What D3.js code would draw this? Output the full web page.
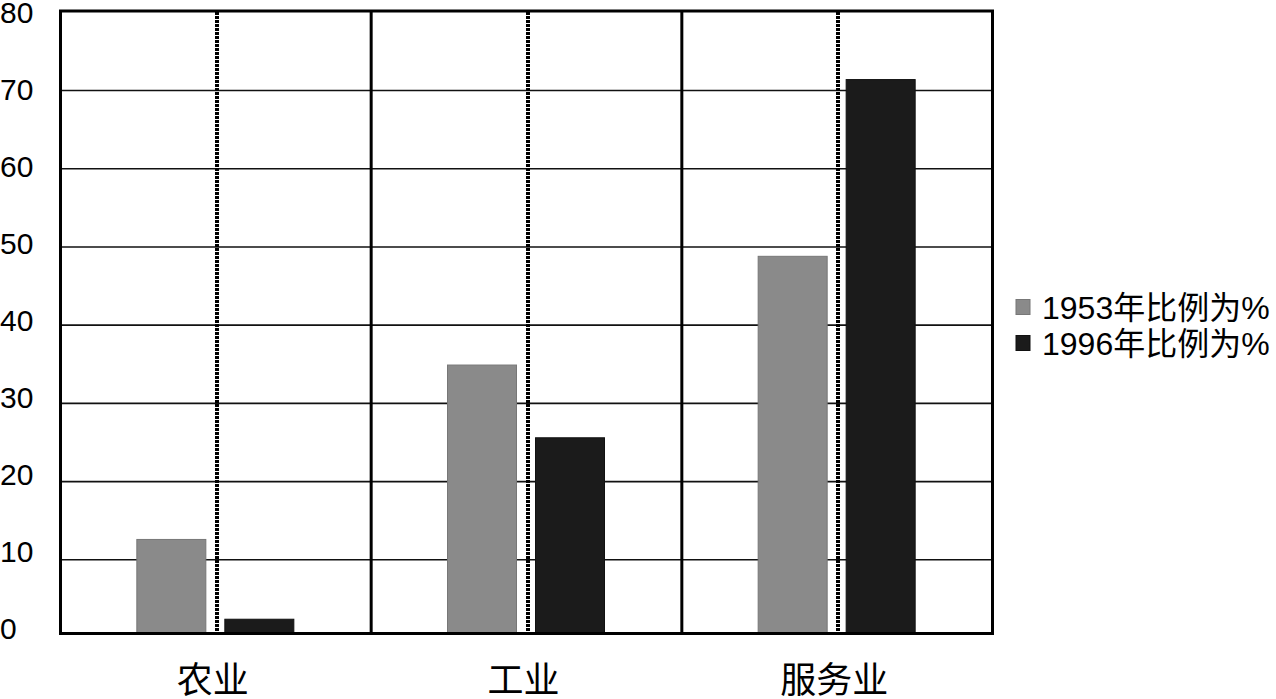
<!DOCTYPE html>
<html><head><meta charset="utf-8">
<script src="https://cdn.jsdelivr.net/npm/d3@7"></script>
<style>html,body{margin:0;padding:0;background:#fff;overflow:hidden}</style>
</head><body>
<svg id="c" width="1276" height="699"></svg>
<script>
const categories = ["农业", "工业", "服务业"];
const seriesNames = ["1953年比例为%", "1996年比例为%"];
const values1953 = [12.6, 34.9, 48.8];
const values1996 = [2.4, 25.6, 71.4];
const yTicks = [0, 10, 20, 30, 40, 50, 60, 70, 80];
const seriesColors = ["#8a8a8a", "#1b1b1b"];
const seriesStroke = ["#777777", "#111111"];

const svg = d3.select("#c");
const frame = {left: 60.5, right: 992.5, top: 11, bottom: 633.5};
const y = d3.scaleLinear().domain([0, 80]).range([638, 12.3]);
const yLab = d3.scaleLinear().domain([0, 80]).range([628.5, 12]);
const x = d3.scaleBand().domain(categories).range([frame.left, frame.right]);
const pInner = 19 / 88;
const x1 = d3.scaleBand().domain(seriesNames).range([-79, 78]).paddingInner(pInner);

// gridlines
svg.append("g").selectAll("line").data(yTicks.filter(d => d > 0 && d < 80)).join("line")
  .attr("x1", frame.left).attr("x2", frame.right)
  .attr("y1", d => y(d)).attr("y2", d => y(d))
  .attr("stroke", "#111").attr("stroke-width", 1.6);

// dotted center lines
svg.append("g").selectAll("line").data(categories).join("line")
  .attr("x1", d => Math.round(x(d) + x.bandwidth() / 2) + 0.5)
  .attr("x2", d => Math.round(x(d) + x.bandwidth() / 2) + 0.5)
  .attr("y1", frame.top + 1).attr("y2", frame.bottom)
  .attr("stroke", "#000").attr("stroke-width", 4).attr("stroke-dasharray", "2.5,1.5")
  .attr("shape-rendering", "crispEdges");

// bars
const data = [];
categories.forEach((c, i) => {
  data.push({cat: c, s: 0, v: values1953[i]});
  data.push({cat: c, s: 1, v: values1996[i]});
});
svg.append("g").selectAll("rect").data(data).join("rect")
  .attr("x", d => x(d.cat) + x.bandwidth() / 2 + x1(seriesNames[d.s]))
  .attr("width", x1.bandwidth())
  .attr("y", d => y(d.v))
  .attr("height", d => frame.bottom - y(d.v))
  .attr("fill", d => seriesColors[d.s])
  .attr("stroke", d => seriesStroke[d.s]).attr("stroke-width", 1);

// separators
svg.append("g").selectAll("line").data(categories.slice(1)).join("line")
  .attr("x1", d => x(d)).attr("x2", d => x(d))
  .attr("y1", frame.top).attr("y2", frame.bottom)
  .attr("stroke", "#000").attr("stroke-width", 3);

// frame
svg.append("rect").attr("x", frame.left).attr("y", frame.top)
  .attr("width", frame.right - frame.left).attr("height", frame.bottom - frame.top)
  .attr("fill", "none").attr("stroke", "#000").attr("stroke-width", 3);

// y tick labels
svg.append("g").selectAll("text").data(yTicks).join("text")
  .attr("x", 0).attr("y", d => yLab(d)).attr("dy", "0.36em")
  .attr("font-family", "'Liberation Sans', Arial, sans-serif").attr("font-size", 30)
  .attr("fill", "#000").text(d => d);

// category labels
svg.append("g").selectAll("text").data(categories).join("text")
  .attr("x", d => x(d) + x.bandwidth() / 2 - 3).attr("y", 693)
  .attr("text-anchor", "middle")
  .attr("font-family", "'Noto Sans CJK SC', sans-serif").attr("font-size", 36)
  .attr("fill", "#000").text(d => d);

// legend
const lg = svg.append("g").selectAll("g").data(seriesNames).join("g")
  .attr("transform", (d, i) => `translate(1016, ${307 + i * 36})`);
lg.append("rect").attr("x", 0).attr("y", -7.5).attr("width", 14).attr("height", 15)
  .attr("fill", (d, i) => seriesColors[i]).attr("stroke", (d, i) => seriesStroke[i]).attr("stroke-width", 1);
lg.append("text").attr("x", 26).attr("y", 0).attr("dy", "0.36em")
  .attr("font-family", "'Liberation Sans', 'Noto Sans CJK SC', sans-serif").attr("font-size", 32)
  .attr("fill", "#000").text(d => d);
</script>
</body></html>
